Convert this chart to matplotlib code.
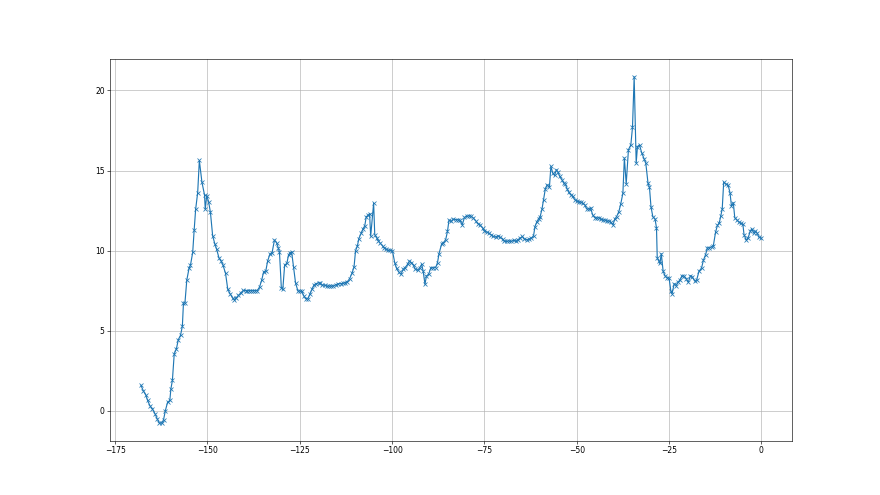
import numpy as np
import matplotlib
matplotlib.use("AGG")
import matplotlib.pyplot as plt

# values
x_vals = [-168.0, -167.4, -166.7, -166.2, -165.6, -164.9, -164.2, -163.6, -163.0, -162.4,
          -161.9, -161.4, -160.8, -160.2, -159.9, -159.5, -159.0, -158.4, -157.9, -157.3,
          -156.8, -156.5, -156.1, -155.6, -155.0, -154.6, -154.0, -153.6, -153.2, -152.65,
          -152.2, -151.5, -150.8, -150.6, -150.2, -149.7, -149.2, -148.6, -148.0, -147.5,
          -146.9, -146.3, -145.8, -145.1, -144.5, -143.9, -143.2, -142.7, -142.2, -141.6,
          -140.9, -140.3, -139.7, -139.2, -138.7, -138.1, -137.6, -137.0, -136.5, -135.9,
          -135.3, -134.8, -134.2, -133.7, -133.1, -132.5, -131.85, -131.3, -130.8, -130.5,
          -130.0, -129.6, -129.1, -128.5, -128.05, -127.6, -127.2, -126.7, -126.15, -125.5,
          -125.0, -124.5, -123.9, -123.4, -122.8, -122.3, -121.7, -121.2, -120.6, -119.9,
          -119.4, -118.9, -118.3, -117.7, -117.1, -116.5, -116.0, -115.3, -114.7, -113.9,
          -113.3, -112.7, -112.1, -111.5, -110.8, -110.3, -109.9, -109.4, -109.0, -108.4,
          -107.9, -107.4, -107.0, -106.5, -106.1, -105.8, -105.0, -104.7, -104.2, -103.7,
          -103.2, -102.6, -102.1, -101.6, -101.1, -100.5, -99.9, -99.3, -98.8, -98.2,
          -97.6, -97.0, -96.5, -95.8, -95.3, -94.8, -94.2, -93.7, -93.1, -92.5,
          -92.0, -91.6, -91.1, -90.7, -90.1, -89.5, -88.9, -88.2, -87.7, -87.3,
          -86.6, -86.1, -85.5, -85.0, -84.6, -84.0, -83.4, -82.8, -82.2, -81.6,
          -81.0, -80.4, -79.8, -79.2, -78.6, -78.0, -77.4, -76.8, -76.2, -75.5,
          -75.0, -74.4, -73.8, -73.2, -72.6, -71.9, -71.4, -70.8, -70.1, -69.6,
          -69.0, -68.4, -67.8, -67.1, -66.5, -66.0, -65.3, -64.7, -64.2, -63.5,
          -62.9, -62.3, -61.7, -61.3, -60.8, -60.3, -59.9, -59.4, -59.0, -58.5,
          -58.0, -57.4, -57.0, -56.5, -56.0, -55.5, -55.1, -54.6, -54.0, -53.5,
          -53.1, -52.6, -52.2, -51.6, -51.1, -50.5, -50.0, -49.5, -48.9, -48.4,
          -47.8, -47.3, -46.7, -46.2, -45.7, -45.1, -44.6, -44.0, -43.5, -42.9,
          -42.4, -41.9, -41.3, -40.8, -40.2, -39.7, -39.2, -38.6, -38.1, -37.5,
          -37.1, -36.6, -36.0, -35.35, -34.9, -34.45, -33.9, -33.55, -33.0, -32.4,
          -31.7, -31.3, -30.7, -30.3, -29.9, -29.4, -28.8, -28.4, -28.2, -27.7,
          -27.5, -27.1, -26.6, -26.0, -25.5, -25.0, -24.5, -24.2, -23.6, -23.1,
          -22.6, -22.0, -21.5, -20.9, -20.3, -19.8, -19.2, -18.7, -18.0, -17.5,
          -16.9, -16.2, -15.7, -15.1, -14.6, -14.1, -13.5, -13.0, -12.4, -11.9,
          -11.4, -11.0, -10.6, -10.2, -9.6, -9.0, -8.5, -8.1, -7.6, -7.2,
          -6.6, -6.1, -5.6, -5.0, -4.7, -4.1, -3.6, -3.0, -2.6, -2.1,
          -1.6, -1.1, -0.7, -0.1]

y_vals = [1.57, 1.25, 0.98, 0.63, 0.31, 0.10, -0.20, -0.52, -0.79, -0.79,
          -0.58, 0.00, 0.52, 0.63, 1.36, 1.88, 3.55, 3.87, 4.43, 4.70,
          5.27, 6.73, 6.73, 8.15, 8.88, 9.09, 9.88, 11.29, 12.58, 13.62,
          15.63, 14.27, 13.48, 12.58, 13.42, 13.06, 12.39, 10.93, 10.41, 10.07,
          9.55, 9.34, 9.09, 8.57, 7.57, 7.31, 7.04, 6.94, 7.04, 7.20,
          7.37, 7.51, 7.50, 7.50, 7.50, 7.50, 7.50, 7.50, 7.50, 7.72,
          8.16, 8.66, 8.73, 9.35, 9.77, 9.87, 10.66, 10.50, 10.15, 9.90,
          7.69, 7.57, 9.09, 9.20, 9.72, 9.87, 9.90, 8.98, 7.98, 7.47,
          7.47, 7.47, 7.16, 6.99, 6.99, 7.26, 7.58, 7.83, 7.93, 7.99,
          7.95, 7.85, 7.83, 7.78, 7.78, 7.78, 7.78, 7.85, 7.92, 7.93,
          7.95, 7.99, 8.06, 8.24, 8.62, 9.00, 9.98, 10.29, 10.75, 11.07,
          11.34, 11.55, 12.11, 12.20, 12.30, 10.90, 12.96, 11.00, 10.80, 10.60,
          10.45, 10.30, 10.15, 10.08, 10.02, 10.02, 9.98, 9.25, 8.89, 8.66,
          8.52, 8.83, 8.93, 9.14, 9.35, 9.25, 9.08, 8.83, 8.77, 8.93,
          9.14, 8.73, 7.89, 8.41, 8.52, 8.93, 8.93, 8.93, 9.25, 9.80,
          10.40, 10.50, 10.67, 11.20, 11.89, 11.82, 11.97, 11.93, 11.93, 11.89,
          11.61, 12.07, 12.14, 12.18, 12.14, 12.03, 11.87, 11.68, 11.61, 11.41,
          11.24, 11.15, 11.09, 10.99, 10.88, 10.84, 10.92, 10.84, 10.72, 10.57,
          10.57, 10.61, 10.57, 10.63, 10.57, 10.67, 10.78, 10.88, 10.72, 10.67,
          10.72, 10.78, 10.92, 11.50, 11.80, 12.00, 12.12, 12.60, 13.17, 13.86,
          14.11, 13.94, 15.26, 14.84, 14.69, 15.05, 14.90, 14.63, 14.42, 14.21,
          14.15, 13.86, 13.65, 13.48, 13.38, 13.17, 13.10, 13.06, 13.02, 12.96,
          12.85, 12.60, 12.60, 12.64, 12.23, 12.06, 12.02, 12.06, 11.97, 11.91,
          11.91, 11.85, 11.85, 11.77, 11.60, 11.97, 12.12, 12.43, 12.89, 13.58,
          15.78, 14.17, 16.30, 16.60, 17.70, 20.86, 15.47, 16.50, 16.60, 16.10,
          15.70, 15.47, 14.21, 13.94, 12.75, 12.12, 11.97, 11.42, 9.54, 9.33,
          9.20, 9.80, 8.70, 8.39, 8.29, 8.29, 7.45, 7.30, 7.93, 7.81,
          8.01, 8.18, 8.43, 8.39, 8.22, 8.01, 8.43, 8.35, 8.08, 8.18,
          8.70, 8.91, 9.39, 9.75, 10.17, 10.17, 10.23, 10.31, 11.15, 11.57,
          11.73, 12.15, 12.61, 14.28, 14.14, 14.08, 13.62, 12.78, 12.99, 12.05,
          11.90, 11.78, 11.69, 11.63, 11.00, 10.65, 10.79, 11.21, 11.36, 11.11,
          11.21, 11.07, 10.84, 10.79]

x = np.array(x_vals)
y = np.array(y_vals)

fig = plt.figure(figsize=(16, 9))
ax = fig.add_subplot(111)
ax.plot(x, y, marker='x')
ax.set_yticks([0, 5, 10, 15, 20])
ax.grid(True)

plt.savefig("out.png", dpi=55)
